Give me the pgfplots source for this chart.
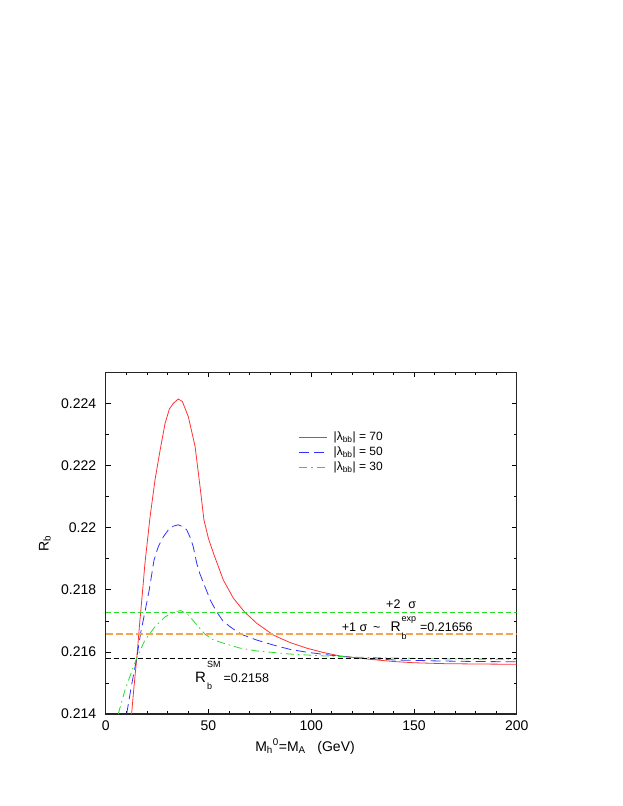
\documentclass[border=0pt]{standalone}
\usepackage{fontspec}
\setmainfont{Liberation Sans}
\usepackage{pgfplots}
\pgfplotsset{compat=1.18}
\definecolor{cred}{RGB}{255,50,50}
\definecolor{cblue}{RGB}{50,50,255}
\definecolor{cgreen}{RGB}{40,220,40}
\definecolor{corange}{RGB}{242,165,85}
\begin{document}
\begin{tikzpicture}
\useasboundingbox (0,0) rectangle (623bp,806bp);
\begin{axis}[
  at={(105.7bp,92bp)}, anchor=south west, scale only axis,
  width=411bp, height=341.7bp,
  xmin=0, xmax=200, ymin=0.214, ymax=0.225,
  xtick={0,50,100,150,200}, minor x tick num=4,
  ytick={0.214,0.216,0.218,0.22,0.222,0.224}, minor y tick num=1,
  scaled y ticks=false,
  yticklabel style={/pgf/number format/fixed,/pgf/number format/precision=3, xshift=-6bp},
  xticklabel style={yshift=-3bp},
  /pgf/number format/assume math mode=true,
  tick align=inside, major tick length=5bp, minor tick length=3bp,
  tick style={black, line width=0.6bp},
  axis line style={line width=1.2bp, black!85},
  font=\fontsize{14bp}{16bp}\selectfont,
  xlabel={M\textsubscript{h}\textsuperscript{0}=M\textsubscript{A}\ \ \ (GeV)},
  ylabel={R\textsubscript{b}},
  xlabel style={at={(axis description cs:0.485,-0.095)}, anchor=center},
  ylabel style={at={(axis description cs:-0.148,0.5)}, anchor=center},
  legend style={at={(axis cs:93.9,0.22311)}, anchor=north west, draw=none, fill=none,
    inner sep=0pt, row sep=2bp,
    font=\fontsize{12bp}{13bp}\selectfont,
    nodes={inner sep=1bp, text height=8.5bp, text depth=2.5bp},
    /tikz/every odd column/.append style={column sep=5bp}},
  legend cell align=left,
  legend image code/.code={\draw[#1] (0bp,0bp) -- (28bp,0bp);},
]
\addplot[cred, line width=0.8bp] coordinates {
(12.6,0.2140) (13.8,0.2149) (15.1,0.21579) (16.5,0.2169) (18,0.2180) (19.1,0.21885)
(21.5,0.2203) (24,0.22154) (26.5,0.2225) (28.9,0.22336) (31,0.22382) (32.9,0.22400)
(35.3,0.22414) (37.3,0.22406) (40.2,0.22357) (42,0.22305) (43.5,0.22261) (45.9,0.22132)
(47.8,0.22025) (50,0.21965) (52.4,0.21918) (57.2,0.21832) (62.1,0.21773) (67.5,0.21729)
(73.5,0.21692) (81.6,0.21654) (89.7,0.21630) (97.8,0.21612) (105.9,0.21598) (114,0.21587)
(122.1,0.21581) (128.6,0.21576) (140,0.21569) (150,0.21565) (165,0.21562) (180,0.21561) (200,0.21560)};
\addlegendentry{|λ\textsubscript{bb}| = 70}
\addplot[cblue, line width=0.8bp, dash pattern=on 10bp off 5bp] coordinates {
(10.2,0.2140) (12.5,0.2149) (15.1,0.2158) (17,0.2166) (19.1,0.21729) (21.2,0.2180)
(23.5,0.21895) (25.6,0.21939) (28,0.21970) (30.5,0.21993) (33,0.22005) (35.3,0.22009)
(37.5,0.22003) (39.4,0.21993) (41,0.21970) (42.6,0.21939) (44.3,0.21885) (45.9,0.21850)
(48.3,0.21810) (51,0.21765) (54,0.21729) (57,0.21700) (60.5,0.21681) (64,0.21665)
(67,0.21654) (73.5,0.21638) (81.6,0.21622) (89.7,0.21608) (97.8,0.21599) (105.9,0.21592)
(114,0.21586) (122,0.21581) (140,0.21574) (160,0.21571) (180,0.21569) (200,0.21568)};
\addlegendentry{|λ\textsubscript{bb}| = 50}
\addplot[cgreen, line width=0.8bp, dash pattern=on 8bp off 4bp on 1.5bp off 4bp] coordinates {
(6.1,0.2140) (9.4,0.21477) (12.6,0.21536) (15.1,0.2158) (19.1,0.21638) (24,0.21681)
(28.9,0.21713) (33.7,0.21729) (36.6,0.21733) (40.2,0.21719) (44.3,0.21687) (48.3,0.21657)
(52,0.21640) (57.2,0.21628) (65.4,0.21612) (73.5,0.21603) (89.7,0.21593) (105.9,0.21587)
(122,0.21583) (140,0.21580) (170,0.21577) (200,0.21576)};
\addlegendentry{|λ\textsubscript{bb}| = 30}
\addplot[black, line width=0.7bp, dash pattern=on 5bp off 3bp, forget plot] coordinates {(0,0.2158) (200,0.2158)};
\addplot[corange, line width=2bp, dash pattern=on 7bp off 3bp, forget plot] coordinates {(0,0.21656) (200,0.21656)};
\addplot[cgreen, line width=0.7bp, dash pattern=on 5bp off 3bp, forget plot] coordinates {(0,0.21728) (200,0.21728)};
\node[anchor=base west, inner sep=0pt, font=\fontsize{12.5bp}{14bp}\selectfont] at (axis cs:136.4,0.2174) {+2\hspace{8bp}σ};
\node[anchor=base west, inner sep=0pt, font=\fontsize{12.5bp}{14bp}\selectfont] at (axis cs:114.8,0.21667)
  {+1 σ\hspace{6bp}\textasciitilde\hspace{10bp}{\fontsize{14bp}{16bp}\selectfont R}\hspace{1bp}\rlap{\raisebox{-8.5bp}{\fontsize{9bp}{10bp}\selectfont b}}\raisebox{9.5bp}{\fontsize{9bp}{10bp}\selectfont exp}\hspace{4bp}=0.21656};
\node[anchor=base west, inner sep=0pt, font=\fontsize{12.5bp}{14bp}\selectfont] at (axis cs:43.45,0.21502)
  {{\fontsize{15bp}{17bp}\selectfont R}\hspace{1bp}\rlap{\raisebox{-7bp}{\fontsize{9bp}{10bp}\selectfont b}}\raisebox{15bp}{\fontsize{9bp}{10bp}\selectfont SM}\hspace{3bp}=0.2158};
\end{axis}
\end{tikzpicture}
\end{document}
